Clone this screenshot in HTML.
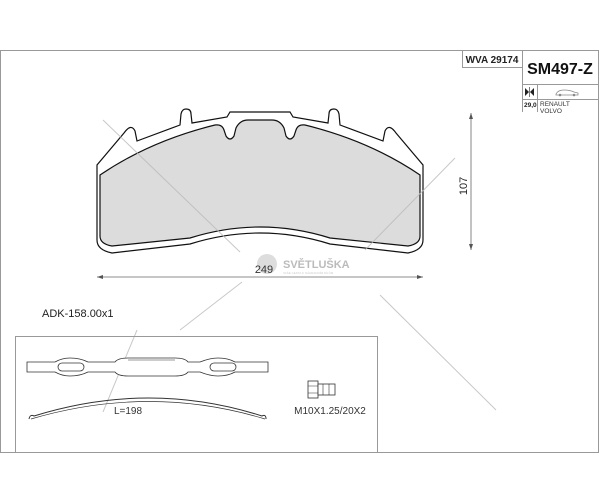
<!DOCTYPE html>
<html><head><meta charset="utf-8"><style>
html,body{margin:0;padding:0;background:#fff;}
svg{display:block;font-family:"Liberation Sans",sans-serif;}
</style></head><body>
<svg width="600" height="503" viewBox="0 0 600 503" xmlns="http://www.w3.org/2000/svg">
<rect x="0.5" y="50.5" width="598" height="402" fill="none" stroke="#999" stroke-width="1"/>
<!-- header -->
<rect x="462.5" y="50.5" width="60" height="17" fill="#fff" stroke="#999"/>
<text x="492" y="63" font-size="10" font-weight="bold" text-anchor="middle" fill="#222">WVA 29174</text>
<rect x="522.5" y="50.5" width="76" height="34" fill="#fff" stroke="#999"/>
<text x="560" y="74" font-size="16" font-weight="bold" text-anchor="middle" fill="#111">SM497-Z</text>
<rect x="522.5" y="84.5" width="76" height="15" fill="#fff" stroke="#999"/>
<line x1="537.5" y1="84.5" x2="537.5" y2="112" stroke="#999"/>
<line x1="522.5" y1="99.5" x2="522.5" y2="112" stroke="#999"/>
<path d="M525 88v8l4-4zM534 88v8l-4-4z" fill="#222"/><line x1="529.5" y1="87" x2="529.5" y2="97" stroke="#222" stroke-width="0.6"/>
<path d="M556 94 q2-4 8-4 q6 0 10 2 l4 1 v2 h-22z" fill="none" stroke="#888" stroke-width="0.8"/>
<circle cx="560" cy="95" r="1.3" fill="#888"/><circle cx="574" cy="95" r="1.3" fill="#888"/>
<text x="524" y="107" font-size="6.5" font-weight="bold" fill="#222">29,0</text>
<text x="540" y="106" font-size="6.5" fill="#333">RENAULT</text>
<text x="540" y="113" font-size="6.5" fill="#333">VOLVO</text>
<!-- pad plate -->
<path d="M112,253 Q97,250 97,240 L97,165 L124,133 Q131,123 135,131 L137,141 L180,125 L181,114 Q182,109 186,109 Q191,109 191,114 L192,123 L227,117 L230,112 L290,112 L293,117 L328,123 L329,114 Q329,109 334,109 Q338,109 339,114 L340,125 L383,141 L385,131 Q389,123 396,133 L423,165 L423,240 Q423,250 408,253 L330,244 Q260,222 190,244 Z" fill="#fff" stroke="#111" stroke-width="1.2"/>
<path d="M112,246 Q100,244 100,236 L100,175 Q150,141 215,125 Q222,124 224,130 L226,136 Q230,142 234,136 L236,128 Q240,120 248,120 L272,120 Q280,120 284,128 L286,136 Q290,142 294,136 L296,130 Q298,124 305,125 Q370,141 420,175 L420,236 Q420,244 408,246 L330,238 Q260,216 190,238 Z" fill="#dcdcdc" stroke="#111" stroke-width="1.2"/>
<!-- watermark lines -->
<g stroke="#bbb" stroke-width="1" opacity="0.8">
<line x1="103" y1="120" x2="240" y2="252"/>
<line x1="455" y1="158" x2="365" y2="250"/>
<line x1="380" y1="295" x2="496" y2="410"/>
<line x1="137" y1="330" x2="103" y2="412"/>
<line x1="242" y1="282" x2="180" y2="330"/>
</g>
<!-- dims -->
<line x1="97" y1="277" x2="423" y2="277" stroke="#666" stroke-width="0.8"/>
<path d="M97,277 l6,-2 v4z M423,277 l-6,-2 v4z" fill="#555"/>
<circle cx="267" cy="264" r="10" fill="#ddd"/>
<text x="264" y="273" font-size="11" text-anchor="middle" fill="#333">249</text>
<text x="283" y="268" font-size="11" font-weight="bold" fill="#bbb">SVĚTLUŠKA</text>
<text x="283" y="274" font-size="3" fill="#ccc">VAŠE CESTA K NÁHRADNÍM DÍLŮM</text>
<line x1="471" y1="113" x2="471" y2="250" stroke="#666" stroke-width="0.8"/>
<path d="M471,113 l-2,6 h4z M471,250 l-2,-6 h4z" fill="#555"/>
<text transform="translate(467,186) rotate(-90)" font-size="11" text-anchor="middle" fill="#222">107</text>
<text x="42" y="317" font-size="11" fill="#222">ADK-158.00x1</text>
<!-- accessory box -->
<rect x="15.5" y="336.5" width="362" height="116" fill="none" stroke="#999"/>
<path d="M27,362 L55,362 Q62,358 70,358 Q80,358 88,362 L115,362 Q118,358 128,358 L175,358 Q185,358 188,362 L200,362 Q210,358 218,358 Q228,358 235,362 L268,362 L268,372 L235,372 Q228,376 218,376 Q210,376 200,372 L188,372 Q185,376 175,376 L128,376 Q118,376 115,372 L88,372 Q80,376 70,376 Q62,376 55,372 L27,372 Z" fill="#fff" stroke="#333" stroke-width="0.8"/>
<rect x="58" y="363" width="26" height="8" rx="4" fill="#fff" stroke="#333" stroke-width="0.8"/>
<rect x="210" y="363" width="26" height="8" rx="4" fill="#fff" stroke="#333" stroke-width="0.8"/>
<line x1="128" y1="360" x2="175" y2="360" stroke="#333" stroke-width="0.6"/>
<path d="M29,419 Q30,414 34,416 Q150,380 262,416 Q266,414 266,419" fill="none" stroke="#333" stroke-width="1"/>
<path d="M31,419 Q150,384 265,419" fill="none" stroke="#333" stroke-width="0.7"/>
<text x="128" y="414" font-size="10" text-anchor="middle" fill="#333">L=198</text>
<rect x="308" y="381" width="10" height="17" fill="#fff" stroke="#333" stroke-width="0.8"/>
<rect x="318" y="384" width="17" height="11" fill="#fff" stroke="#333" stroke-width="0.8"/>
<line x1="323" y1="384" x2="323" y2="395" stroke="#333" stroke-width="0.6"/>
<line x1="329" y1="384" x2="329" y2="395" stroke="#333" stroke-width="0.6"/>
<line x1="308" y1="386" x2="318" y2="386" stroke="#333" stroke-width="0.5"/>
<line x1="308" y1="393" x2="318" y2="393" stroke="#333" stroke-width="0.5"/>
<text x="330" y="414" font-size="10" text-anchor="middle" fill="#333">M10X1.25/20X2</text>
</svg>
</body></html>
